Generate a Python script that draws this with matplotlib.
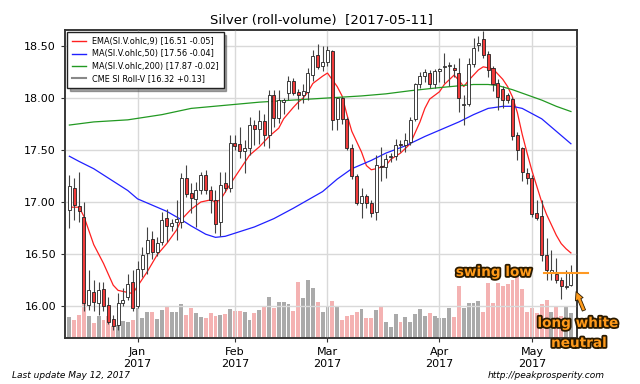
import matplotlib
matplotlib.use("Agg")
import matplotlib.pyplot as plt
import matplotlib.patheffects as pe
from matplotlib.lines import Line2D
import numpy as np
import pandas as pd

# ---------------- data ----------------
holidays = ["2016-12-26", "2017-01-02", "2017-01-16", "2017-02-20", "2017-04-14"]
dates = pd.bdate_range("2016-12-12", "2017-05-11", freq="C", holidays=holidays)

opens = [16.92, 17.13, 16.96, 16.86, 16.01, 16.13, 16.03, 16.16, 16.01, 15.87,
         15.82, 16.03, 16.09, 16.23, 16.00, 16.36, 16.51, 16.64, 16.52, 16.62,
         16.85, 16.77, 16.81, 16.81, 17.23, 17.09, 17.03, 17.12, 17.26, 17.12,
         17.02, 16.81, 17.18, 17.13, 17.57, 17.56, 17.49, 17.52, 17.74, 17.70,
         17.78, 17.64, 18.03, 17.81, 17.96, 18.05, 18.16, 18.06, 18.03, 18.06,
         18.22, 18.41, 18.31, 18.35, 18.45, 17.80, 18.00, 17.80, 17.52, 17.25,
         16.99, 17.06, 16.99, 16.90, 17.35, 17.34, 17.43, 17.44, 17.56, 17.55,
         17.58, 17.80, 18.13, 18.21, 18.24, 18.13, 18.26, 18.30, 18.31, 18.29,
         18.24, 17.93, 17.94, 18.33, 18.51, 18.57, 18.42, 18.29, 18.14, 18.09,
         18.03, 17.99, 17.64, 17.52, 17.28, 17.23, 16.89, 16.87, 16.49, 16.33,
         16.31, 16.25, 16.18, 16.20]
highs = [17.26, 17.23, 17.29, 17.00, 16.35, 16.25, 16.23, 16.23, 16.09, 15.91,
         16.12, 16.17, 16.31, 16.35, 16.43, 16.57, 16.76, 16.72, 16.66, 16.90,
         16.93, 16.84, 17.02, 17.28, 17.36, 17.18, 17.19, 17.29, 17.31, 17.15,
         17.12, 17.29, 17.29, 17.64, 17.64, 17.72, 17.60, 17.82, 17.79, 17.88,
         17.85, 18.08, 18.08, 18.08, 18.00, 18.21, 18.19, 18.09, 18.13, 18.29,
         18.46, 18.52, 18.50, 18.50, 18.46, 18.01, 18.01, 17.82, 17.56, 17.27,
         17.13, 17.08, 17.02, 17.45, 17.53, 17.46, 17.47, 17.61, 17.60, 17.66,
         17.82, 18.14, 18.25, 18.28, 18.27, 18.28, 18.29, 18.43, 18.35, 18.33,
         18.38, 18.03, 18.38, 18.58, 18.60, 18.64, 18.45, 18.31, 18.18, 18.12,
         18.05, 18.01, 17.67, 17.53, 17.33, 17.26, 17.02, 17.02, 16.65, 16.54,
         16.46, 16.28, 16.35, 16.39]
lows = [16.75, 16.83, 16.81, 15.95, 15.96, 15.95, 15.91, 15.95, 15.83, 15.77,
        15.77, 16.00, 16.06, 15.95, 15.98, 16.28, 16.31, 16.45, 16.48, 16.59,
        16.62, 16.72, 16.63, 16.75, 17.05, 16.89, 16.76, 17.08, 17.08, 16.89,
        16.70, 16.67, 17.10, 17.10, 17.50, 17.42, 17.28, 17.45, 17.55, 17.56,
        17.54, 17.52, 17.72, 17.76, 17.85, 17.98, 18.03, 17.89, 17.95, 17.98,
        18.16, 18.28, 18.26, 18.31, 17.69, 17.69, 17.75, 17.50, 17.22, 16.97,
        16.85, 16.94, 16.86, 16.83, 17.20, 17.23, 17.38, 17.40, 17.48, 17.48,
        17.55, 17.78, 18.10, 18.15, 18.10, 18.10, 18.15, 18.14, 18.12, 18.20,
        17.87, 17.74, 17.92, 18.30, 18.45, 18.38, 18.20, 18.07, 17.88, 17.90,
        17.95, 17.60, 17.40, 17.20, 17.17, 16.86, 16.83, 16.43, 16.25, 16.25,
        16.22, 16.07, 16.16, 16.19]
closes = [17.15, 16.97, 16.91, 16.03, 16.15, 16.04, 16.15, 16.00, 15.85, 15.81,
          16.03, 16.06, 16.21, 15.98, 16.36, 16.49, 16.63, 16.52, 16.61, 16.83,
          16.77, 16.80, 16.84, 17.23, 17.08, 17.04, 17.12, 17.26, 17.12, 17.02,
          16.79, 17.16, 17.13, 17.57, 17.54, 17.49, 17.52, 17.74, 17.70, 17.78,
          17.64, 18.03, 17.81, 17.98, 17.98, 18.16, 18.05, 18.03, 18.07, 18.24,
          18.40, 18.30, 18.35, 18.46, 17.79, 18.00, 17.80, 17.52, 17.25, 16.99,
          17.06, 16.99, 16.89, 17.36, 17.34, 17.41, 17.44, 17.55, 17.55, 17.60,
          17.79, 18.13, 18.21, 18.25, 18.13, 18.26, 18.28, 18.31, 18.32, 18.27,
          18.00, 17.94, 18.33, 18.48, 18.53, 18.41, 18.27, 18.13, 18.01, 17.98,
          17.98, 17.63, 17.50, 17.29, 17.23, 16.88, 16.85, 16.49, 16.35, 16.35,
          16.25, 16.19, 16.19, 16.32]
volume = [21, 18, 23, 35, 22, 15, 22, 18, 22, 12,
          13, 17, 16, 18, 30, 20, 26, 26, 19, 28,
          32, 26, 26, 34, 23, 30, 25, 21, 20, 25,
          22, 23, 24, 29, 27, 27, 26, 18, 25, 28,
          32, 41, 30, 36, 36, 34, 27, 56, 40, 58,
          50, 36, 26, 32, 37, 31, 18, 22, 23, 26,
          29, 20, 20, 28, 32, 16, 11, 24, 16, 21,
          16, 24, 29, 22, 25, 22, 20, 20, 30, 21,
          52, 30, 35, 35, 37, 26, 55, 35, 55, 52,
          54, 58, 61, 49, 26, 30, 25, 34, 38, 26,
          32, 22, 31, 25]

ema_idx = [0, 2, 3, 5, 7, 9, 10, 12, 13, 14, 16, 18, 20, 22, 23, 25, 27, 29, 30, 31,
           33, 35, 37, 39, 41, 43, 44, 46, 47, 48, 49, 50, 52, 53, 55, 56, 57, 58, 60,
           61, 62, 63, 65, 66, 68, 70, 72, 73, 74, 76, 77, 79, 80, 81, 82, 84, 85, 87,
           89, 90, 91, 92, 93, 94, 95, 96, 97, 98, 99, 100, 101, 102, 103]
ema_val = [16.95, 16.95, 16.86, 16.59, 16.41, 16.20, 16.15, 16.13, 16.12, 16.19,
           16.33, 16.49, 16.60, 16.73, 16.83, 16.93, 17.00, 17.02, 17.00, 17.02,
           17.17, 17.31, 17.45, 17.53, 17.63, 17.71, 17.80, 17.91, 17.96, 18.00,
           18.06, 18.14, 18.21, 18.24, 18.11, 18.02, 17.84, 17.68, 17.48, 17.35,
           17.31, 17.32, 17.35, 17.41, 17.47, 17.56, 17.77, 17.90, 17.99, 18.06,
           18.13, 18.22, 18.17, 18.11, 18.17, 18.27, 18.30, 18.28, 18.18, 18.11,
           18.01, 17.86, 17.65, 17.47, 17.30, 17.15, 17.00, 16.88, 16.78, 16.68,
           16.60, 16.55, 16.51]
ma50_idx = [0, 2, 5, 8, 12, 14, 17, 20, 23, 25, 28, 30, 32, 34, 38, 42, 46, 49, 52,
            55, 58, 62, 65, 69, 73, 76, 80, 83, 86, 89, 91, 93, 95, 97, 99, 101, 103]
ma50_val = [17.44, 17.39, 17.32, 17.23, 17.11, 17.03, 16.97, 16.91, 16.83, 16.77,
            16.69, 16.66, 16.67, 16.70, 16.76, 16.84, 16.94, 17.02, 17.10, 17.22,
            17.32, 17.40, 17.47, 17.54, 17.63, 17.69, 17.77, 17.84, 17.90, 17.92,
            17.92, 17.90, 17.85, 17.80, 17.72, 17.64, 17.56]
ma200_idx = [0, 5, 12, 19, 25, 32, 39, 46, 53, 60, 65, 70, 76, 83, 86, 88, 91, 94,
             97, 100, 103]
ma200_val = [17.74, 17.77, 17.79, 17.84, 17.90, 17.93, 17.96, 17.98, 18.00, 18.02,
             18.04, 18.07, 18.10, 18.13, 18.13, 18.12, 18.08, 18.03, 17.98, 17.92,
             17.87]

labels = ["EMA(SI.V.ohlc,9) [16.51 -0.05]", "MA(SI.V.ohlc,50) [17.56 -0.04]",
          "MA(SI.V.ohlc,200) [17.87 -0.02]", "CME SI Roll-V [16.32 +0.13]"]
swing_low = 16.32

# ---------------- figure ----------------
fig = plt.figure(figsize=(6.4, 3.84), dpi=100)
ax = fig.add_axes([65 / 640, 46 / 384, 512 / 640, 308 / 384])
ax2 = ax.twinx()
ax.set_zorder(ax2.get_zorder() + 1)
ax.patch.set_visible(False)
ax2.set_facecolor("#f5f5f5")

x = np.arange(len(dates))
o = np.array(opens); c = np.array(closes); h = np.array(highs); l = np.array(lows)
up = c >= o

# volume
vcol = np.where(up, "#aaaaaa", "#f4b2b2")
ax2.bar(x, volume, width=0.8, color=vcol, edgecolor="none")
ax2.set_ylim(0, 308)
ax2.set_yticks([])

# grid
ax.grid(True, color="#d9d9d9", lw=1.0)
ax.set_axisbelow(True)

# moving averages
ax.plot(ema_idx, ema_val, color="#ff2020", lw=0.9, zorder=3)
ax.plot(ma50_idx, ma50_val, color="#2020ff", lw=0.9, zorder=3)
ax.plot(ma200_idx, ma200_val, color="#229922", lw=0.9, zorder=3)

# candles
ax.vlines(x, l, h, color="#444444", lw=0.8, zorder=4)
body_bot = np.minimum(o, c)
body_h = np.maximum(np.abs(c - o), 0.008)
ax.bar(x, body_h, bottom=body_bot, width=0.62,
       color=np.where(up, "white", "#f03a3a"), edgecolor="#222222", lw=0.6, zorder=5)

ax.set_xlim(-0.9, 104.25)
ax.set_ylim(15.692, 18.654)
ax.set_yticks([16.0, 16.5, 17.0, 17.5, 18.0, 18.5])
ax.set_yticklabels([f"{v:.2f}" for v in [16.0, 16.5, 17.0, 17.5, 18.0, 18.5]])

mpos = [i for i in range(1, len(dates)) if dates[i].month != dates[i - 1].month]
ax.set_xticks(mpos)
ax.set_xticklabels([f"{dates[i]:%b}\n{dates[i]:%Y}" for i in mpos])
ax.tick_params(labelsize=8, length=3, color="#333333")
for s in ax.spines.values():
    s.set_color("#333333"); s.set_linewidth(1.1)
for s in ax2.spines.values():
    s.set_color("#333333"); s.set_linewidth(1.1)

ax.set_title("Silver (roll-volume)  [2017-05-11]", fontsize=9.5, pad=4)

handles = [Line2D([], [], color="#ff2020", lw=1), Line2D([], [], color="#2020ff", lw=1),
           Line2D([], [], color="#229922", lw=1), Line2D([], [], color="#888888", lw=1.5)]
leg = ax.legend(handles, labels, loc="upper left", fontsize=5.9, frameon=True,
                fancybox=False, shadow=True, borderaxespad=0.3, handlelength=1.7,
                labelspacing=0.42, borderpad=0.55)
leg.get_frame().set_edgecolor("#222222")
leg.get_frame().set_linewidth(1.0)
leg.set_zorder(10)

# annotations
ax.plot([97.4, 106.6], [swing_low, swing_low], color="#ff9922", lw=1.5,
        clip_on=False, zorder=6)
peff = [pe.withStroke(linewidth=2.6, foreground="#2a1a00")]
tkw = dict(ha="center", va="center", fontsize=9.8, fontweight="bold",
           color="#ff9a1a", path_effects=peff, zorder=20)
fig.text(494 / 640, 1 - 272 / 384, "swing low", **tkw)
fig.text(578 / 640, 1 - 323 / 384, "long white", **tkw)
fig.text(579 / 640, 1 - 343 / 384, "neutral", **tkw)
fig.add_artist(plt.Annotation("", xy=(575 / 640, 1 - 289 / 384), xycoords="figure fraction",
                              xytext=(585 / 640, 1 - 313 / 384), textcoords="figure fraction",
                              arrowprops=dict(arrowstyle="simple,head_width=0.6,head_length=0.6,tail_width=0.25",
                                              fc="#ff9a1a", ec="#2a1a00", lw=0.6)))

fig.text(12 / 640, 1 - 376 / 384, "Last update May 12, 2017", fontsize=6.5,
         style="italic", va="center")
fig.text(605 / 640, 1 - 376 / 384, "http://peakprosperity.com", fontsize=6.5,
         style="italic", va="center", ha="right")

fig.savefig("out.png", dpi=100)
